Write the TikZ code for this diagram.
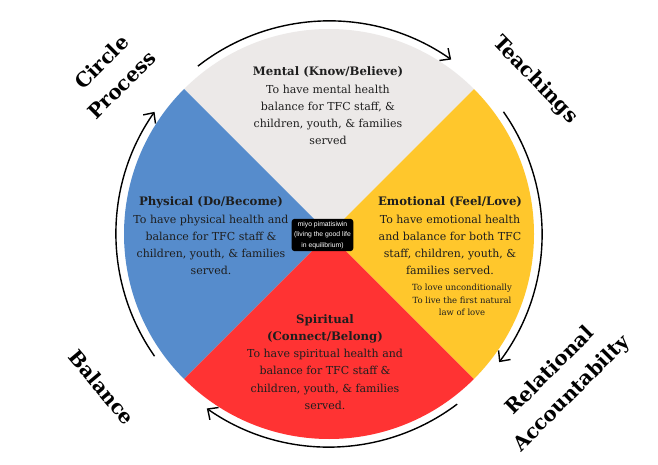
\documentclass[tikz,border=0pt]{standalone}
\usepackage{fontspec}
\setmainfont{DejaVu Serif}
\newfontfamily\smallsans{Liberation Sans}
\usetikzlibrary{arrows.meta}
\definecolor{qgray}{RGB}{236,233,232}
\definecolor{qblue}{RGB}{86,140,204}
\definecolor{qyellow}{RGB}{255,199,44}
\definecolor{qred}{RGB}{255,51,51}
\definecolor{qtext}{RGB}{30,30,30}
\newcommand{\ttl}[1]{{\fontsize{11.7}{17.2}\selectfont\bfseries #1}}
\begin{document}
\begin{tikzpicture}[x=1pt,y=1pt,
  ring/.style={line width=1.4pt, -{Straight Barb[length=8pt,width=15pt,line width=1.4pt]}},
  body/.style={align=center, font=\fontsize{11}{17.2}\selectfont, text=qtext, inner sep=0pt},
  smallbody/.style={align=center, font=\fontsize{8.5}{12.5}\selectfont, text=qtext, inner sep=0pt},
  lbl/.style={font=\fontsize{20}{29}\bfseries\selectfont, align=center, text=black, inner sep=0pt},
  tag/.style={fill=black, text=white, rounded corners=3pt, align=center, inner sep=2.5pt,
    font=\smallsans\fontsize{6.8}{10.5}\selectfont}]
\useasboundingbox (0,0) rectangle (658,-465);
\fill[white] (0,0) rectangle (658,-465);
\coordinate (C) at (329,-234);
% quadrants
\fill[qgray] (C) -- ++(45:205) arc[start angle=45,end angle=135,radius=205] -- cycle;
\fill[qblue] (C) -- ++(135:205) arc[start angle=135,end angle=225,radius=205] -- cycle;
\fill[qred] (C) -- ++(225:205) arc[start angle=225,end angle=315,radius=205] -- cycle;
\fill[qyellow] (C) -- ++(-45:205) arc[start angle=-45,end angle=45,radius=205] -- cycle;
% outer arrows
\draw[ring] ([shift={(128:213)}]C) arc[start angle=128,end angle=55,radius=213];
\draw[ring] ([shift={(35:213)}]C) arc[start angle=35,end angle=-37,radius=213];
\draw[ring] ([shift={(-53:213)}]C) arc[start angle=-53,end angle=-125,radius=213];
\draw[ring] ([shift={(-145:213)}]C) arc[start angle=-145,end angle=-215,radius=213];
% quadrant texts
\node[body] (mental) at (328,-106) {\ttl{Mental (Know/Believe)}\\To have mental health\\balance for TFC staff, \&\\children, youth, \& families\\served};
\node[body] (physical) at (211,-236) {\ttl{Physical (Do/Become)}\\To have physical health and\\balance for TFC staff \&\\children, youth, \& families\\served.};
\node[body] (emotional) at (450,-236) {\ttl{Emotional (Feel/Love)}\\To have emotional health\\and balance for both TFC\\staff, children, youth, \&\\families served.};
\node[smallbody] (love) at (462,-300) {To love unconditionally\\To live the first natural\\law of love};
\node[body] (spiritual) at (325,-362) {\ttl{Spiritual}\\\ttl{(Connect/Belong)}\\To have spiritual health and\\balance for TFC staff \&\\children, youth, \& families\\served.};
\node[tag] (miyo) at (322.5,-235) {miyo pimatisiwin\\(living the good life\\in equilibrium)};
% outer labels
\node[lbl, rotate=45] (circle) at (101.5,-62) {Circle};
\node[lbl, rotate=45] (process) at (121.5,-85) {Process};
\node[lbl, rotate=-46] (teach) at (535,-80) {Teachings};
\node[lbl, rotate=-50] (balance) at (102,-387) {Balance};
\node[lbl, rotate=45] (relational) at (549,-370) {Relational};
\node[lbl, rotate=45] (account) at (572,-394) {Accountabilty};
\end{tikzpicture}
\end{document}
